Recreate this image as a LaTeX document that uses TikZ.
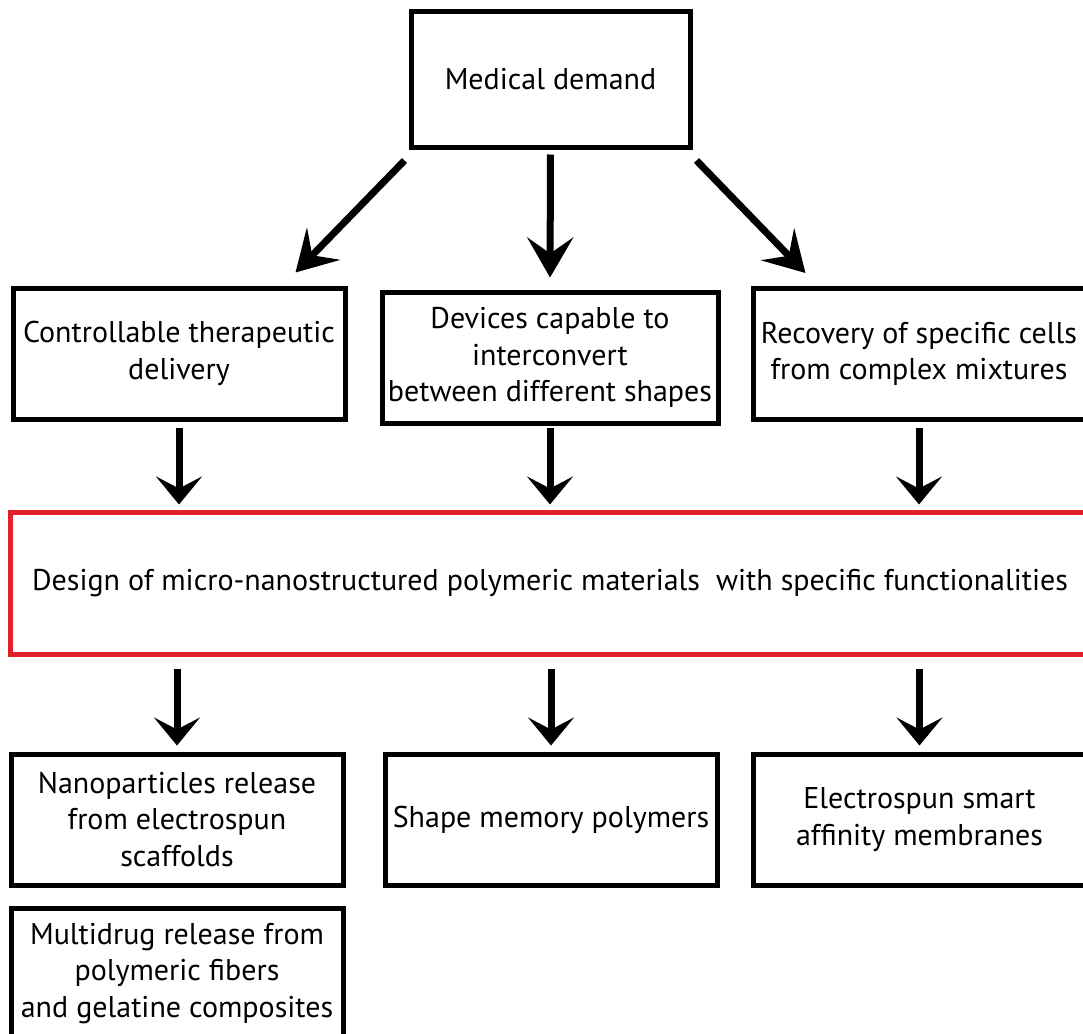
\documentclass[tikz,border=0pt]{standalone}
\usepackage{fontspec}
\setmainfont{PT Sans}
\usetikzlibrary{arrows.meta}
\definecolor{designred}{RGB}{226,32,44}
\tikzset{every path/.style={line width=2.5pt}}
\tikzset{
  box/.style={draw, align=center, inner sep=0pt, minimum width=166pt, minimum height=65.5pt,
    font=\fontsize{15}{18.3}\selectfont},
  bigarr/.style={line width=3.5pt, -{Stealth[length=20pt,width=23pt,inset=8pt]}},
  arr/.style={line width=3.5pt, -{Stealth[length=14pt,width=23pt,inset=6pt]}}
}

\begin{document}
\begin{tikzpicture}[x=0.5pt,y=-0.5pt]
    \useasboundingbox (0,0) rectangle (1083,1034);

    \node[box, minimum width=139.5pt, minimum height=68pt] (med) at (550.5,79) {Medical demand};

    \node[box] (ctl) at (179,353.5) {Controllable therapeutic\\delivery};
    \node[box, minimum width=168pt] (dev) at (550,357.5) {Devices capable to\\interconvert\\between different shapes};
    \node[box] (rec) at (919,354) {Recovery of specific cells\\from complex mixtures};

    \node[box, draw=designred, minimum width=540pt, minimum height=71pt] (design) at (550,583)
      {Design of micro-nanostructured polymeric materials\ \ with specific functionalities};

    \node[box] (nano) at (177,819.5) {Nanoparticles release\\from electrospun\\scaffolds};
    \node[box] (smp) at (551,819.5) {Shape memory polymers};
    \node[box] (mem) at (919.5,819.5) {Electrospun smart\\affinity membranes};
    \node[box] (multi) at (177,973.5) {Multidrug release from\\polymeric fibers\\and gelatine composites};

    \draw[bigarr] ([shift={(-4,11)}]med.south west) -- ([shift={(-52,-13)}]ctl.north east);
    \draw[bigarr, shorten <=2.5pt, shorten >=6pt] (med.south) -- (dev.north);
    \draw[bigarr] ([shift={(4,11)}]med.south east) -- ([shift={(55,-13)}]rec.north west);

    \draw[arr, shorten <=3pt, shorten >=2.5pt] (ctl.south) -- (ctl.south |- design.north);
    \draw[arr, shorten <=1pt, shorten >=2.5pt] (dev.south) -- (dev.south |- design.north);
    \draw[arr, shorten <=3pt, shorten >=2.5pt] (rec.south) -- (rec.south |- design.north);

    \draw[arr, shorten <=6pt, shorten >=3pt] (nano.north |- design.south) -- (nano.north);
    \draw[arr, shorten <=6pt, shorten >=3pt] (smp.north |- design.south) -- (smp.north);
    \draw[arr, shorten <=6pt, shorten >=3pt] (mem.north |- design.south) -- (mem.north);
  \end{tikzpicture}
\end{document}
